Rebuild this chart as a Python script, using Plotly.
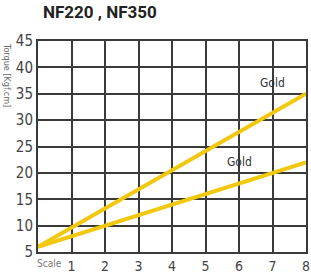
import plotly.graph_objects as go

scale = [0, 8]
gold_high = [6, 35]
gold_low = [6, 22]
x_ticks = [1, 2, 3, 4, 5, 6, 7, 8]
y_ticks = [5, 10, 15, 20, 25, 30, 35, 40, 45]

GOLD = "#F2C80F"
GRID = "#3a3a3a"
FONT = "DejaVu Sans Condensed, Liberation Sans Narrow, Roboto, sans-serif"
TFONT = "Roboto, sans-serif"

fig = go.Figure()
for ys in (gold_high, gold_low):
    fig.add_trace(go.Scatter(x=scale, y=ys, mode="lines",
                             line=dict(color=GOLD, width=4), hoverinfo="skip",
                             showlegend=False, cliponaxis=True))

fig.update_layout(
    width=311, height=279,
    margin=dict(l=38, r=5, t=41, b=27, autoexpand=False),
    paper_bgcolor="white", plot_bgcolor="white",
    font=dict(family=FONT, color="#333"),
    xaxis=dict(range=[0, 8], tickvals=x_ticks, ticktext=[str(v) for v in x_ticks],
               showgrid=True, gridcolor=GRID, gridwidth=1.5,
               showline=True, linecolor=GRID, linewidth=2, mirror=True,
               ticks="", tickfont=dict(size=14, color="#444"), zeroline=False,
               ticklabeloverflow="allow", automargin=False,
               fixedrange=True),
    yaxis=dict(range=[5, 45], tickvals=y_ticks,
               showgrid=True, gridcolor=GRID, gridwidth=1.5,
               showline=True, linecolor=GRID, linewidth=2, mirror=True,
               ticks="", tickfont=dict(size=15, color="#444"), zeroline=False,
               ticklabeloverflow="allow", automargin=False, fixedrange=True),
)

fig.add_annotation(text="<b>NF220 , NF350</b>", xref="paper", yref="paper",
                   x=0, xshift=3, y=1.0, yshift=29, xanchor="left", yanchor="middle",
                   showarrow=False, font=dict(size=17, color="#222", family=TFONT))
fig.add_annotation(text="Torque [Kgf.cm]", xref="paper", yref="paper",
                   x=0, xshift=-31, y=1.0, yanchor="top", xanchor="center",
                   textangle=90, showarrow=False,
                   font=dict(size=9, color="#666", family=FONT))
fig.add_annotation(text="Scale", xref="x", yref="paper", x=0, y=0, xshift=11,
                   yshift=-11, xanchor="center", yanchor="middle", showarrow=False,
                   font=dict(size=10, color="#777", family=FONT))
fig.add_annotation(text="Gold", x=7, y=37, showarrow=False,
                   font=dict(size=12, color="#333", family=FONT))
fig.add_annotation(text="Gold", x=6, y=22, showarrow=False,
                   font=dict(size=12, color="#333", family=FONT))

fig.write_html("out.html", config={"displayModeBar": False},
               post_script="document.body.style.margin='0';document.body.style.overflow='hidden';")
